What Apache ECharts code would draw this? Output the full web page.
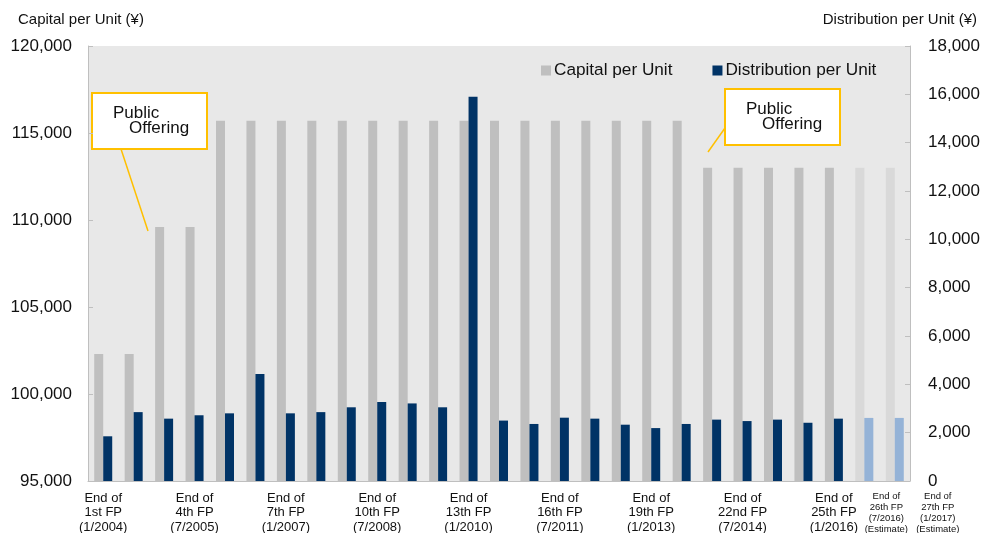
<!DOCTYPE html>
<html>
<head>
<meta charset="utf-8">
<script src="https://cdn.jsdelivr.net/npm/echarts@6/dist/echarts.min.js"></script>
<style>
  html, body { margin: 0; padding: 0; background: #fff; }
  #chart { width: 982px; height: 533px; }
</style>
</head>
<body>
<div id="chart"></div>
<script>
const categories = [
  "End of\n1st FP\n(1/2004)", "End of\n2nd FP\n(7/2004)", "End of\n3rd FP\n(1/2005)",
  "End of\n4th FP\n(7/2005)", "End of\n5th FP\n(1/2006)", "End of\n6th FP\n(7/2006)",
  "End of\n7th FP\n(1/2007)", "End of\n8th FP\n(7/2007)", "End of\n9th FP\n(1/2008)",
  "End of\n10th FP\n(7/2008)", "End of\n11th FP\n(1/2009)", "End of\n12th FP\n(7/2009)",
  "End of\n13th FP\n(1/2010)", "End of\n14th FP\n(7/2010)", "End of\n15th FP\n(1/2011)",
  "End of\n16th FP\n(7/2011)", "End of\n17th FP\n(1/2012)", "End of\n18th FP\n(7/2012)",
  "End of\n19th FP\n(1/2013)", "End of\n20th FP\n(7/2013)", "End of\n21st FP\n(1/2014)",
  "End of\n22nd FP\n(7/2014)", "End of\n23rd FP\n(1/2015)", "End of\n24th FP\n(7/2015)",
  "End of\n25th FP\n(1/2016)", "End of\n26th FP\n(7/2016)\n(Estimate)", "End of\n27th FP\n(1/2017)\n(Estimate)"
];
const capitalPerUnit = [
  102300, 102300, 109600, 109600, 115700, 115700, 115700, 115700, 115700,
  115700, 115700, 115700, 115700, 115700, 115700, 115700, 115700, 115700,
  115700, 115700, 113000, 113000, 113000, 113000, 113000, 113000, 113000
];
const distributionPerUnit = [
  1850, 2850, 2580, 2720, 2800, 4430, 2800, 2850, 3050,
  3270, 3210, 3050, 15900, 2500, 2360, 2620, 2580, 2330,
  2190, 2360, 2540, 2480, 2540, 2410, 2580, 2610, 2610
];
const estimateFrom = 25; // index of first estimate period
const leftTicks = { min: 95000, max: 120000, interval: 5000 };
const rightTicks = { min: 0, max: 18000, interval: 2000 };

const FONT = "'Liberation Sans', Arial, sans-serif";
const GRAY = "#bfbfbf", GRAY_EST = "#d9d9d9";
const BLUE = "#003366", BLUE_EST = "#95b3d7";
const GOLD = "#ffc000";

const fmt = v => v.toLocaleString("en-US");

const capitalData = capitalPerUnit.map((v, i) =>
  i >= estimateFrom ? { value: v, itemStyle: { color: GRAY_EST } } : v);
const distData = distributionPerUnit.map((v, i) =>
  i >= estimateFrom ? { value: v, itemStyle: { color: BLUE_EST } } : v);

function callout(x, y, w, h, lx1, ly1, lx2, ly2) {
  return {
    type: "group",
    children: [
      { type: "line", shape: { x1: lx1, y1: ly1, x2: lx2, y2: ly2 },
        style: { stroke: GOLD, lineWidth: 1.5 } },
      { type: "rect", shape: { x: x, y: y, width: w, height: h },
        style: { fill: "#fff", stroke: GOLD, lineWidth: 2 } },
      { type: "text", x: x + 21, y: y + 12,
        style: { text: "Public", font: "17px " + FONT, fill: "#111", textVerticalAlign: "top" } },
      { type: "text", x: x + 37, y: y + 27,
        style: { text: "Offering", font: "17px " + FONT, fill: "#111", textVerticalAlign: "top" } }
    ]
  };
}

// extra label-only x axis for one estimate period (Excel puts them a bit to the right)
function estimateAxis(idx, shift) {
  return {
    type: "category",
    position: "bottom",
    gridIndex: 0,
    data: categories,
    axisLine: { show: false },
    axisTick: { show: false },
    axisLabel: {
      interval: (i) => i === idx,
      showMinLabel: false, showMaxLabel: idx === categories.length - 1,
      margin: 10,
      color: "#111",
      fontSize: 9.5,
      lineHeight: 11,
      padding: [0, 0, 0, shift * 2]
    }
  };
}

const chart = echarts.init(document.getElementById("chart"));
chart.setOption({
  animation: false,
  textStyle: { fontFamily: FONT },
  title: [
    { text: "Capital per Unit (¥)", left: 13, top: 7,
      textStyle: { fontSize: 15, fontWeight: "normal", color: "#111", fontFamily: FONT } },
    { text: "Distribution per Unit (¥)", right: 0, top: 7,
      textStyle: { fontSize: 15, fontWeight: "normal", color: "#111", fontFamily: FONT } }
  ],
  legend: {
    left: 536, top: 57,
    itemWidth: 10, itemHeight: 10, itemGap: 40,
    icon: "rect",
    textStyle: { fontSize: 17.2, color: "#111", fontFamily: FONT, padding: [0, 0, 0, -2] },
    data: ["Capital per Unit", "Distribution per Unit"]
  },
  grid: {
    left: 88, right: 72, top: 46, bottom: 52,
    outerBoundsMode: "none",
    show: true, backgroundColor: "#e8e8e8", borderWidth: 0
  },
  xAxis: [
    {
      type: "category",
      data: categories,
      axisLine: { lineStyle: { color: GRAY } },
      axisTick: { show: false },
      axisLabel: {
        interval: (i) => i % 3 === 0 && i < estimateFrom,
        margin: 10,
        color: "#111",
        fontSize: 13,
        lineHeight: 14.5
      }
    },
    estimateAxis(25, 22),
    estimateAxis(26, 43)
  ],
  yAxis: [
    {
      type: "value",
      min: leftTicks.min, max: leftTicks.max, interval: leftTicks.interval,
      axisLine: { show: true, lineStyle: { color: GRAY } },
      axisTick: { show: true, inside: true, length: 5, lineStyle: { color: GRAY } },
      splitLine: { show: false },
      axisLabel: { formatter: fmt, fontSize: 17, color: "#111", margin: 16 }
    },
    {
      type: "value",
      min: rightTicks.min, max: rightTicks.max, interval: rightTicks.interval,
      axisLine: { show: true, lineStyle: { color: GRAY } },
      axisTick: { show: true, inside: true, length: 5, lineStyle: { color: GRAY } },
      splitLine: { show: false },
      axisLabel: { formatter: fmt, fontSize: 17, color: "#111", margin: 18 }
    }
  ],
  series: [
    {
      name: "Capital per Unit", type: "bar", xAxisIndex: 0, yAxisIndex: 0,
      barWidth: 9, barGap: "0%",
      itemStyle: { color: GRAY },
      data: capitalData
    },
    {
      name: "Distribution per Unit", type: "bar", xAxisIndex: 0, yAxisIndex: 1,
      barWidth: 9,
      itemStyle: { color: BLUE },
      data: distData
    }
  ],
  graphic: [
    callout(92, 93, 115, 56, 121, 149, 148, 231),
    callout(725, 89, 115, 56, 725, 128, 708, 152)
  ]
});
</script>
</body>
</html>
